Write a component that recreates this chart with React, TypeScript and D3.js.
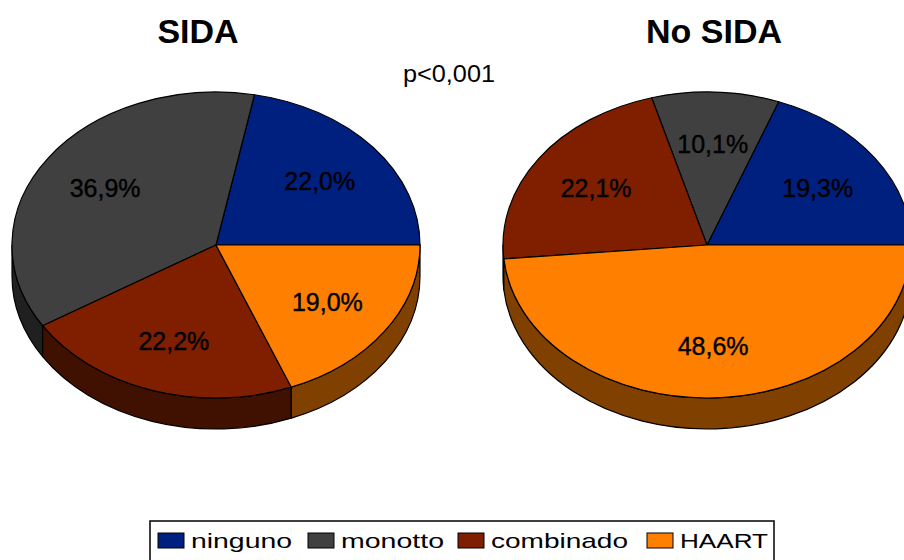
import React from "react";
import * as d3 from "d3";

// data
const categories = ["ninguno", "monotto", "combinado", "HAART"];
const sidaValues = [22.0, 36.9, 22.2, 19.0];
const noSidaValues = [19.3, 10.1, 22.1, 48.6];
const pieTitles = ["SIDA", "No SIDA"];
const pValue = "p<0,001";

const topColors = ["#00207f", "#404040", "#7f1f00", "#ff8000"];
const sideColors = ["#001040", "#202020", "#401000", "#7f4000"];

const width = 904;
const height = 560;
const rx = 204;
const ry = 153;
const depth = 31;
const pieCenters = [
  { cx: 216, cy: 245 },
  { cx: 707, cy: 245 },
];

const legendX = [158, 308, 458, 647];
const legendTextW = [101, 103, 137, 88];

const fmt = (v: number) => d3.format(".1f")(v).replace(".", ",") + "%";

// theta: counter-clockwise from 3 o'clock
const pt = (cx: number, cy: number, t: number, dy = 0): [number, number] => [
  cx + rx * Math.cos(t),
  cy - ry * Math.sin(t) + dy,
];

const pie = d3
  .pie<number>()
  .sort(null)
  .startAngle(0)
  .endAngle(2 * Math.PI);

function Pie3D({ values, cx, cy }: { values: number[]; cx: number; cy: number }) {
  const arcs = pie(values);

  const sides = arcs
    .map((a, i) => {
      const s = Math.max(a.startAngle, Math.PI);
      const e = Math.min(a.endAngle, 2 * Math.PI);
      if (e <= s) return null;
      const [x0, y0] = pt(cx, cy, s);
      const [x1, y1] = pt(cx, cy, e);
      const large = e - s > Math.PI ? 1 : 0;
      const d =
        `M${x0},${y0} A${rx},${ry} 0 ${large} 0 ${x1},${y1} ` +
        `L${x1},${y1 + depth} A${rx},${ry} 0 ${large} 1 ${x0},${y0 + depth} Z`;
      return <path key={"s" + i} d={d} fill={sideColors[i]} stroke="#000" strokeWidth={1.2} strokeLinejoin="round" />;
    })
    .filter(Boolean);

  const tops = arcs.map((a, i) => {
    const [x0, y0] = pt(cx, cy, a.startAngle);
    const [x1, y1] = pt(cx, cy, a.endAngle);
    const large = a.endAngle - a.startAngle > Math.PI ? 1 : 0;
    const d = `M${cx},${cy} L${x0},${y0} A${rx},${ry} 0 ${large} 0 ${x1},${y1} Z`;
    return <path key={"t" + i} d={d} fill={topColors[i]} stroke="#000" strokeWidth={1.2} strokeLinejoin="round" />;
  });

  const labels = arcs.map((a, i) => {
    const mid = (a.startAngle + a.endAngle) / 2;
    const x = cx + 0.66 * rx * Math.cos(mid);
    const y = cy - 0.66 * ry * Math.sin(mid);
    return (
      <text
        key={"l" + i}
        x={x}
        y={y}
        dy="0.36em"
        textAnchor="middle"
        fontSize={25}
        fontFamily="Liberation Sans, Arial, sans-serif"
        fill="#000"
        stroke="#000"
        strokeWidth={0.4}
      >
        {fmt(values[i])}
      </text>
    );
  });

  return (
    <g>
      {sides}
      {tops}
      {labels}
    </g>
  );
}

export default function App() {
  const font = "Liberation Sans, Arial, sans-serif";
  return (
    <svg
      width={width}
      height={height}
      style={{ position: "absolute", left: 0, top: 0, background: "#fff" }}
    >
      <Pie3D values={sidaValues} cx={pieCenters[0].cx} cy={pieCenters[0].cy} />
      <Pie3D values={noSidaValues} cx={pieCenters[1].cx} cy={pieCenters[1].cy} />

      {pieTitles.map((t, i) => (
        <text
          key={t}
          x={i === 0 ? 198 : 714}
          y={43}
          textAnchor="middle"
          fontSize={34}
          fontWeight="bold"
          fontFamily={font}
        >
          {t}
        </text>
      ))}
      <text x={403} y={82} fontSize={23} fontFamily={font} textLength={92} lengthAdjust="spacingAndGlyphs">
        {pValue}
      </text>

      <rect x={150} y={521} width={624} height={50} fill="#fff" stroke="#000" strokeWidth={1.5} />
      {categories.map((c, i) => (
        <g key={c}>
          <rect x={legendX[i]} y={533} width={26} height={15} fill={topColors[i]} stroke="#000" strokeWidth={1} />
          <text
            x={legendX[i] + 33}
            y={548}
            fontSize={21}
            fontFamily={font}
            textLength={legendTextW[i]}
            lengthAdjust="spacingAndGlyphs"
          >
            {c}
          </text>
        </g>
      ))}
    </svg>
  );
}
